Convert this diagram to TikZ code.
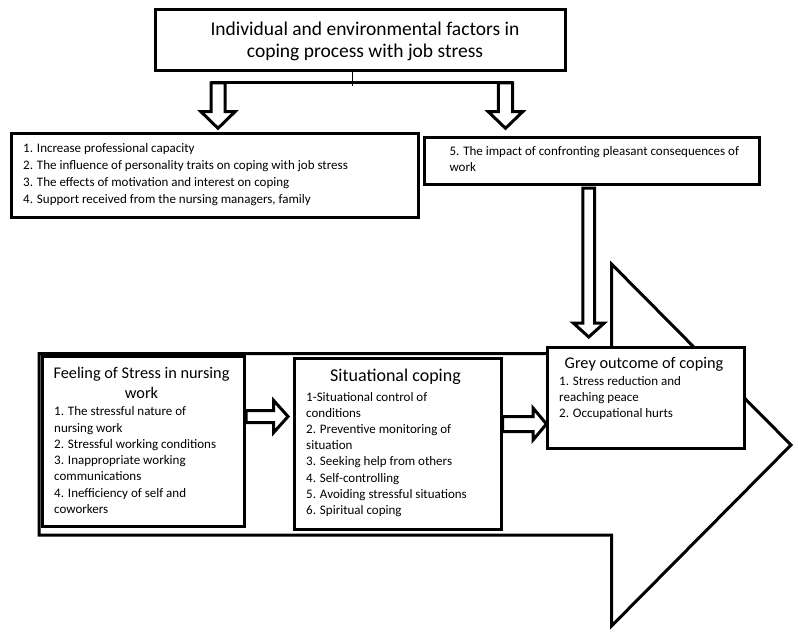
\documentclass[tikz,border=0pt]{standalone}
\usepackage{fontspec}
\setmainfont{Carlito}
\usetikzlibrary{calc}
\begin{document}
\begin{tikzpicture}[x=1pt,y=-1pt,
  box/.style={draw=black, line width=3pt, fill=white, rectangle, inner sep=0pt, anchor=north west},
  itemtext/.style={inner sep=0pt, anchor=north west, align=left},
  headtext/.style={inner sep=0pt, anchor=north, align=center},
  blockarrow/.style={draw=black, line width=3pt, fill=white, line join=miter},
  bigarrow/.style={draw=black, line width=3pt, fill=white, line join=miter},
  link/.style={draw=black, line width=1pt}]
\useasboundingbox (0,0) rectangle (798,634);

% title
\node[box, minimum width=410pt, minimum height=61pt] (title) at (154,8.5) {};
\node[headtext, font=\fontsize{19.5}{22.5}\selectfont] (titletext) at (365,19)
  {\rule{0pt}{16pt}Individual and environmental factors in\\coping process with job stress};

% connector and top block arrows
\coordinate (bar) at ($(title.south)+(-8,13.5)$);
\draw[link] ($(title.south)+(-8,0)$) -- (bar);
\coordinate (dl) at (218,83);
\coordinate (dr) at (505.5,83);
\draw[blockarrow] (dl) ++(-7,0) -- ++(0,28.7) -- ++(-10,0) -- ++(17,16.6) -- ++(17,-16.6) -- ++(-10,0) -- ++(0,-28.7) -- cycle;
\draw[blockarrow] (dr) ++(-7.2,0) -- ++(0,28.7) -- ++(-10,0) -- ++(17.2,16.6) -- ++(17.2,-16.6) -- ++(-10,0) -- ++(0,-28.7) -- cycle;
\draw[line width=3pt] ($(dl)+(-7,0)$) -- ($(dr)+(7.2,0)$);

% left list
\node[box, minimum width=407.5pt, minimum height=84.5pt] (listl) at (9.5,131.5) {};
\node[itemtext, font=\fontsize{13}{16.9}\selectfont] (listlt) at (23,141.7)
  {\rule{0pt}{11pt}1. Increase professional capacity\\
   2. The influence of personality traits on coping with job stress\\
   3. The effects of motivation and interest on coping\\
   4. Support received from the nursing managers, family};

% right list
\node[box, minimum width=334.5pt, minimum height=47pt] (listr) at (423,135.5) {};
\node[itemtext, font=\fontsize{13}{16}\selectfont] (listrt) at (449.3,144.7)
  {\rule{0pt}{11pt}5. The impact of confronting pleasant consequences of\\work};

% vertical block arrow
\coordinate (vtop) at ($(listr.south)+(-3,2.5)$);
\draw[blockarrow] (vtop) ++(-5.9,0) -- ++(0,135) -- ++(-9.6,0) -- ++(15.5,14) -- ++(15.5,-14) -- ++(-9.6,0) -- ++(0,-135) -- cycle;

% big arrow
\draw[bigarrow] (39,353.5) -- (611.5,353.5) -- (611.5,264) -- (791,445) -- (611.5,626) -- (611.5,535) -- (39,535) -- cycle;

% feeling box
\node[box, minimum width=202pt, minimum height=170pt] (feel) at (41,355) {};
\node[headtext, font=\fontsize{16.3}{20}\selectfont] (feelh) at (141.5,364.3)
  {\rule{0pt}{14pt}Feeling of Stress in nursing\\work};
\node[itemtext, font=\fontsize{13}{16.27}\selectfont] (feelt) at (54,404.7)
  {\rule{0pt}{11pt}1. The stressful nature of\\nursing work\\2. Stressful working conditions\\3. Inappropriate working\\communications\\4. Inefficiency of self and\\coworkers};

% situational box
\node[box, minimum width=206.5pt, minimum height=171pt] (sit) at (293,357) {};
\node[headtext, font=\fontsize{18}{21}\selectfont] (sith) at (395.5,366.7)
  {\rule{0pt}{15pt}Situational coping};
\node[itemtext, font=\fontsize{13}{16.19}\selectfont] (sitt) at (306,390)
  {\rule{0pt}{11pt}1-Situational control of\\conditions\\2. Preventive monitoring of\\situation\\3. Seeking help from others\\4. Self-controlling\\5. Avoiding stressful situations\\6. Spiritual coping};

% grey outcome box
\node[box, minimum width=197.5pt, minimum height=101.5pt] (grey) at (545.5,345.5) {};
\node[headtext, font=\fontsize{16.3}{20}\selectfont] (greyh) at (644,354.3)
  {\rule{0pt}{14pt}Grey outcome of coping};
\node[itemtext, font=\fontsize{13}{16}\selectfont] (greyt) at (559,374.7)
  {\rule{0pt}{11pt}1. Stress reduction and\\reaching peace\\2. Occupational hurts};

% horizontal block arrows
\draw[blockarrow] ($(feel.east)+(0,-25)$) ++(0,-6) -- ++(27.7,0) -- ++(0,-10) -- ++(14.3,16) -- ++(-14.3,16) -- ++(0,-10) -- ++(-27.7,0) -- cycle;
\draw[blockarrow] ($(sit.east)+(0,-20)$) ++(0,-7.5) -- ++(30.5,0) -- ++(0,-8.5) -- ++(13.5,16) -- ++(-13.5,16) -- ++(0,-8.5) -- ++(-30.5,0) -- cycle;
\end{tikzpicture}
\end{document}
